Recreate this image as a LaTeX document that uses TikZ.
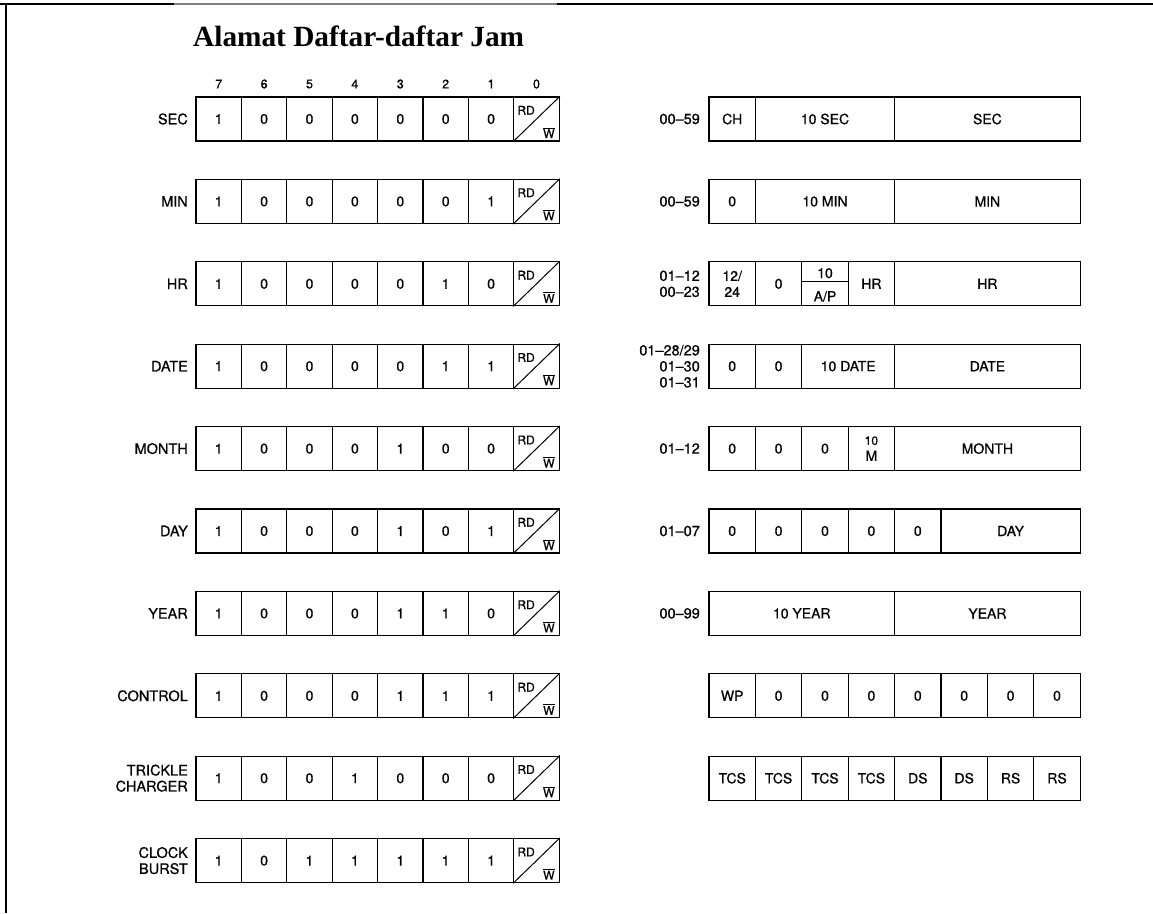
\documentclass[tikz,border=0pt]{standalone}
\usepackage{fontspec}
\setmainfont{Liberation Serif}
\newfontfamily\hv[FakeBold=0.6]{TeX Gyre Heros}
\usetikzlibrary{calc}
\newcommand\regbox[4]{\node[rcell,minimum width={46.4pt*#3}] (R#1c#2) at ({709+46.4*(#2+#3/2)},{119+82.4*#1}) {#4};}
\begin{document}
\begin{tikzpicture}[x=1pt,y=-1pt,
  cell/.style={draw=black,line width=1.3pt,minimum width=45.4pt,minimum height=44pt,inner sep=0pt,font=\hv\fontsize{14}{16}\selectfont},
  rcell/.style={draw=black,line width=1.3pt,minimum height=44pt,inner sep=0pt,font=\hv\fontsize{14}{16}\selectfont,align=center},
  lbl/.style={font=\hv\fontsize{14.5}{16}\selectfont,align=right,inner sep=0pt},
  hdr/.style={font=\hv\fontsize{12.5}{14}\selectfont,inner sep=0pt},
  small/.style={font=\hv\fontsize{12}{13}\selectfont,inner sep=0pt},
  txt/.style={font=\hv\fontsize{14}{16}\selectfont,inner sep=0pt}]
\useasboundingbox (0,0) rectangle (1153,913);
\fill[white] (0,0) rectangle (1153,913);
% frame
\draw[line width=2.8pt] (0,4) -- (174,4);
\draw[line width=2.8pt,gray] (174,4) -- (557,4);
\draw[line width=2.8pt] (557,4) -- (1153,4);
\draw[line width=2.8pt] (6,2.6) -- (6,913);
% title
\node[anchor=base west,inner sep=0pt,font=\bfseries\fontsize{29.3}{32}\selectfont] (title) at (193,46) {Alamat Daftar-daftar Jam};
% header
\foreach \n [count=\k from 0] in {7,6,5,4,3,2,1,0}
  \node[hdr] (H\k) at ({196+45.4*(\k+0.5)},84) {\n};
% left rows
\foreach \lab/\a/\b/\c/\d/\e/\f/\g [count=\r from 0] in {
  SEC/1/0/0/0/0/0/0, MIN/1/0/0/0/0/0/1, HR/1/0/0/0/0/1/0, DATE/1/0/0/0/0/1/1,
  MONTH/1/0/0/0/1/0/0, DAY/1/0/0/0/1/0/1, YEAR/1/0/0/0/1/1/0, CONTROL/1/0/0/0/1/1/1,
  {TRICKLE\\CHARGER}/1/0/0/1/0/0/0, {CLOCK\\BURST}/1/0/1/1/1/1/1}{
  \pgfmathsetmacro\yy{119+82.4*\r}
  \node[lbl,anchor=east] (LL\r) at (188,\yy) {\lab};
  \foreach \v [count=\k from 0] in {\a,\b,\c,\d,\e,\f,\g}
    \node[cell] (L\r-\k) at ({196+45.4*(\k+0.5)},\yy) {\v};
  \node[cell] (L\r-7) at ({196+45.4*7.5},\yy) {};
  \draw[line width=1pt] (L\r-7.south west) -- (L\r-7.north east);
  \node[small] (RD\r) at ($(L\r-7.north west)+(13,14)$) {RD};
  \node[small] (W\r) at ($(L\r-7.south east)+(-11,-9)$) {$\overline{\hbox{W}}$};
}
% right labels
\node[lbl,anchor=east] (RL0) at (700,119) {00–59};
\node[lbl,anchor=east] (RL1) at (700,201.4) {00–59};
\node[lbl,anchor=east] (RL2) at (700,283.8) {01–12\\00–23};
\node[lbl,anchor=east] (RL3) at (700,366.2) {01–28/29\\01–30\\01–31};
\node[lbl,anchor=east] (RL4) at (700,448.6) {01–12};
\node[lbl,anchor=east] (RL5) at (700,531) {01–07};
\node[lbl,anchor=east] (RL6) at (700,613.4) {00–99};
% right rows
\regbox{0}{0}{1}{CH}\regbox{0}{1}{3}{10 SEC}\regbox{0}{4}{4}{SEC}
\regbox{1}{0}{1}{0}\regbox{1}{1}{3}{10 MIN}\regbox{1}{4}{4}{MIN}
\regbox{2}{0}{1}{12/\\24}\regbox{2}{1}{1}{0}\regbox{2}{2}{1}{}\regbox{2}{3}{1}{HR}\regbox{2}{4}{4}{HR}
\draw[line width=1.3pt] ($(R2c2.north west)+(0,20)$) -- ($(R2c2.north east)+(0,20)$);
\node[txt] (T10) at ($(R2c2.north)+(0,12)$) {10};
\node[txt] (TAP) at ($(R2c2.south)+(0,-10)$) {A/P};
\regbox{3}{0}{1}{0}\regbox{3}{1}{1}{0}\regbox{3}{2}{2}{10 DATE}\regbox{3}{4}{4}{DATE}
\regbox{4}{0}{1}{0}\regbox{4}{1}{1}{0}\regbox{4}{2}{1}{0}\regbox{4}{3}{1}{\fontsize{12}{12.5}\selectfont 10\\M}\regbox{4}{4}{4}{MONTH}
\regbox{5}{0}{1}{0}\regbox{5}{1}{1}{0}\regbox{5}{2}{1}{0}\regbox{5}{3}{1}{0}\regbox{5}{4}{1}{0}\regbox{5}{5}{3}{DAY}
\regbox{6}{0}{4}{10 YEAR}\regbox{6}{4}{4}{YEAR}
\regbox{7}{0}{1}{WP}\regbox{7}{1}{1}{0}\regbox{7}{2}{1}{0}\regbox{7}{3}{1}{0}\regbox{7}{4}{1}{0}\regbox{7}{5}{1}{0}\regbox{7}{6}{1}{0}\regbox{7}{7}{1}{0}
\regbox{8}{0}{1}{TCS}\regbox{8}{1}{1}{TCS}\regbox{8}{2}{1}{TCS}\regbox{8}{3}{1}{TCS}\regbox{8}{4}{1}{DS}\regbox{8}{5}{1}{DS}\regbox{8}{6}{1}{RS}\regbox{8}{7}{1}{RS}
\end{tikzpicture}
\end{document}
